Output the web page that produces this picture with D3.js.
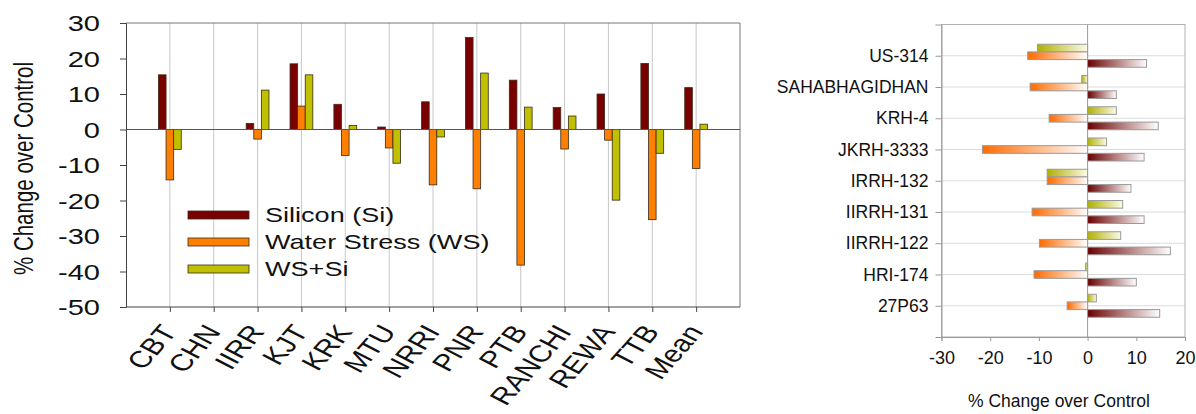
<!DOCTYPE html>
<html>
<head>
<meta charset="utf-8">
<script src="https://cdn.jsdelivr.net/npm/d3@7"></script>
<style>
  html, body { margin: 0; padding: 0; background: #fff; }
  svg { display: block; font-family: "Liberation Sans", Arial, sans-serif; }
</style>
</head>
<body>
<svg id="chart" width="1196" height="414"></svg>
<script>
// ---------- Left chart data ----------
const categories = ["CBT","CHN","IIRR","KJT","KRK","MTU","NRRI","PNR","PTB","RANCHI","REWA","TTB","Mean"];
const silicon     = [15.4, 0, 1.7, 18.5, 7.1, 0.7, 7.8, 25.9, 13.9, 6.2, 10.0, 18.6, 11.8];
const waterStress = [-14.2, 0, -2.7, 6.6, -7.3, -5.2, -15.6, -16.7, -38.2, -5.5, -3.0, -25.4, -11.0];
const wsSi        = [-5.6, 0, 11.1, 15.4, 1.1, -9.5, -2.1, 15.9, 6.3, 3.8, -19.9, -6.7, 1.5];
const seriesNames = ["Silicon (Si)", "Water Stress (WS)", "WS+Si"];
const yTicks = [30, 20, 10, 0, -10, -20, -30, -40, -50];

// ---------- Right chart data ----------
const varieties = ["US-314","SAHABHAGIDHAN","KRH-4","JKRH-3333","IRRH-132","IIRRH-131","IIRRH-122","HRI-174","27P63"];
const varSi     = [12.1, 5.9, 14.5, 11.6, 8.9, 11.6, 17.0, 10.0, 14.8];
const varWS     = [-12.3, -11.8, -7.9, -21.6, -8.3, -11.4, -9.9, -11.0, -4.2];
const varWSSi   = [-10.3, -1.2, 5.9, 3.9, -8.3, 7.2, 6.8, -0.4, 1.8];
const xTicks2   = [-30, -20, -10, 0, 10, 20];
const axisTitle = "% Change over Control";

const colors = ["#7a0000", "#ff8000", "#c0c000"];
const svg = d3.select("#chart");
const SX = 1.32; // horizontal stretch of left-chart lettering

// ================= LEFT CHART =================
const L = {left: 126, right: 740, top: 23, bottom: 307};
const x = d3.scalePoint().domain(categories).range([L.left, L.right]).padding(1);
const y = d3.scaleLinear().domain([-50, 30]).range([L.bottom, L.top]);
const sub = d3.scaleBand().domain([0, 1, 2]).range([-11.4, 11.4]);

const gL = svg.append("g");
// vertical gridlines
gL.selectAll("line.vg").data(categories).join("line")
  .attr("x1", d => x(d)).attr("x2", d => x(d))
  .attr("y1", L.top).attr("y2", L.bottom)
  .attr("stroke", "#c8c8c8").attr("stroke-width", 1);
// top and right border
gL.append("path").attr("d", `M${L.left},${L.top}H${L.right}V${L.bottom}`)
  .attr("fill", "none").attr("stroke", "#777").attr("stroke-width", 1);

// bars
const leftData = [silicon, waterStress, wsSi];
leftData.forEach((vals, si) => {
  gL.append("g").selectAll("rect")
    .data(categories.map((c, i) => ({c, v: vals[i]})).filter(d => d.v !== 0))
    .join("rect")
    .attr("x", d => x(d.c) + sub(si))
    .attr("width", sub.bandwidth())
    .attr("y", d => y(Math.max(0, d.v)))
    .attr("height", d => Math.abs(y(d.v) - y(0)))
    .attr("fill", colors[si])
    .attr("stroke", "#3a2a1a").attr("stroke-width", 0.8);
});

// zero line
gL.append("line").attr("x1", L.left).attr("x2", L.right)
  .attr("y1", y(0)).attr("y2", y(0)).attr("stroke", "#555").attr("stroke-width", 1);

// Y axis
const yAxis = d3.axisLeft(y).tickValues(yTicks).tickSize(6).tickFormat("");
const gy = gL.append("g").attr("transform", `translate(${L.left},0)`).call(yAxis);
gy.select(".domain").attr("stroke", "#444");
gy.selectAll(".tick line").attr("stroke", "#444");
gL.selectAll("text.ytick").data(yTicks).join("text")
  .attr("class", "ytick")
  .attr("transform", d => `translate(100,${y(d)}) scale(${SX},1)`)
  .attr("dy", "0.38em").attr("text-anchor", "end")
  .attr("font-size", 22).attr("fill", "#111").text(d => String(d));

// X axis
const xAxis = d3.axisBottom(x).tickSize(5).tickFormat("");
const gx = gL.append("g").attr("transform", `translate(0,${L.bottom})`).call(xAxis);
gx.select(".domain").attr("stroke", "#444").attr("d", `M${L.left},0H${L.right}`);
gx.selectAll(".tick line").attr("stroke", "#444");
gL.selectAll("text.xlab").data(categories).join("text")
  .attr("class", "xlab")
  .attr("transform", d => `translate(${x(d) + 8},${L.bottom + 25}) scale(${SX},1) rotate(-56)`)
  .attr("text-anchor", "end")
  .attr("font-size", 23.5).attr("fill", "#111").text(d => d);

// Y title
gL.append("text")
  .attr("transform", `translate(33,168.5) scale(${SX},1) rotate(-90)`)
  .attr("text-anchor", "middle").attr("font-size", 20.5).attr("fill", "#111")
  .text(axisTitle);

// Legend
const leg = gL.append("g");
seriesNames.forEach((name, i) => {
  const cy = 215 + i * 27;
  leg.append("rect").attr("x", 188).attr("y", cy - 4).attr("width", 61).attr("height", 8)
    .attr("fill", colors[i]).attr("stroke", "#3a2a1a").attr("stroke-width", 0.8);
  leg.append("text").attr("transform", `translate(265,${cy}) scale(${SX},1)`)
    .attr("dy", "0.36em").attr("font-size", 20.5).attr("fill", "#111").text(name);
});

// ================= RIGHT CHART =================
const R = {left: 941.5, right: 1185, top: 24.5, bottom: 337};
const x2 = d3.scaleLinear().domain([-30, 20]).range([R.left, R.right]);
const y2 = d3.scalePoint().domain(varieties).range([R.top, R.bottom]).padding(1);
const sub2 = d3.scaleBand().domain([0, 1, 2]).range([-11.5, 11.5]);

const defs = svg.append("defs");
const gradSpecs = [["gRed", "#6a0000", "#ffffff"], ["gOrg", "#ff6a00", "#ffffff"], ["gYel", "#b0b000", "#fbfbea"]];
gradSpecs.forEach(([id, c0, c1]) => {
  const g = defs.append("linearGradient").attr("id", id).attr("x1", 0).attr("x2", 1).attr("y1", 0).attr("y2", 0);
  g.append("stop").attr("offset", "0%").attr("stop-color", c0);
  g.append("stop").attr("offset", "100%").attr("stop-color", c1);
});

const gR = svg.append("g");
// horizontal gridlines
gR.selectAll("line.hg").data(varieties).join("line")
  .attr("x1", R.left).attr("x2", R.right).attr("y1", d => y2(d)).attr("y2", d => y2(d))
  .attr("stroke", "#dcdcdc");
// frame
gR.append("rect").attr("x", R.left).attr("y", R.top).attr("width", R.right - R.left)
  .attr("height", R.bottom - R.top).attr("fill", "none").attr("stroke", "#b0b0b0");
// zero line
gR.append("line").attr("x1", x2(0)).attr("x2", x2(0)).attr("y1", R.top).attr("y2", R.bottom)
  .attr("stroke", "#999");

// bars: order top->bottom: WS+Si, WS, Si
const rightData = [[varWSSi, "gYel"], [varWS, "gOrg"], [varSi, "gRed"]];
rightData.forEach(([vals, gid], k) => {
  gR.append("g").selectAll("rect")
    .data(varieties.map((c, i) => ({c, v: vals[i]})))
    .join("rect")
    .attr("x", d => x2(Math.min(0, d.v)))
    .attr("width", d => Math.abs(x2(d.v) - x2(0)))
    .attr("y", d => y2(d.c) + sub2(k))
    .attr("height", sub2.bandwidth())
    .attr("fill", `url(#${gid})`)
    .attr("stroke", "#9a9a9a").attr("stroke-width", 1);
});

// axes
const yAxis2 = d3.axisLeft(y2).tickSize(6).tickPadding(7);
const gy2 = gR.append("g").attr("transform", `translate(${R.left},0)`).call(yAxis2);
gy2.select(".domain").attr("stroke", "#999");
gy2.selectAll(".tick line").attr("stroke", "#999");
gy2.selectAll(".tick text").attr("font-size", 17.5).attr("fill", "#111")
  .attr("font-family", '"Liberation Sans", Arial, sans-serif');

const xAxis2 = d3.axisBottom(x2).tickValues(xTicks2).tickSize(4).tickPadding(10)
  .tickFormat(d => String(d));
const gx2 = gR.append("g").attr("transform", `translate(0,${R.bottom})`).call(xAxis2);
gx2.select(".domain").attr("stroke", "#999");
gx2.selectAll(".tick line").attr("stroke", "#999");
gx2.selectAll(".tick text").attr("font-size", 18).attr("fill", "#111")
  .attr("font-family", '"Liberation Sans", Arial, sans-serif');

gR.append("text").attr("x", 1059).attr("y", 407).attr("text-anchor", "middle")
  .attr("font-size", 17.5).attr("fill", "#111").text(axisTitle);
</script>
</body>
</html>
